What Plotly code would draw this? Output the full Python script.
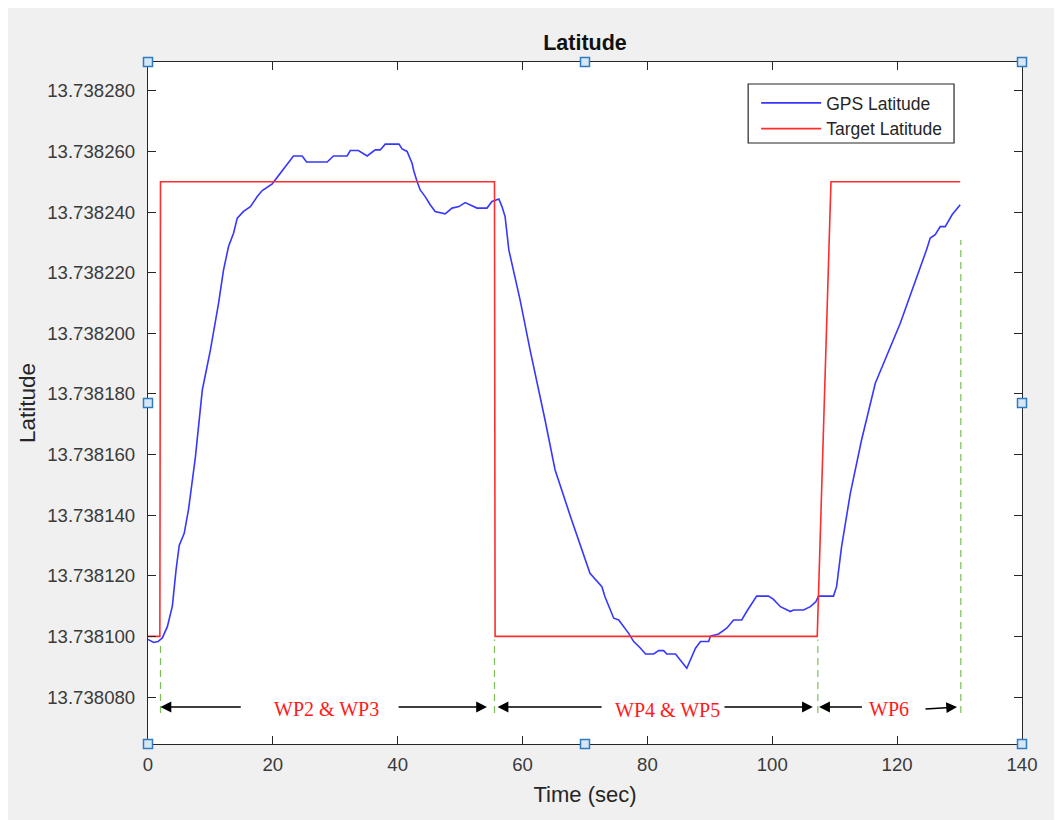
import plotly.graph_objects as go

# ---------------- data ----------------
gps_time = [0.0, 0.9, 1.6, 2.3, 3.1, 3.9, 4.5, 5.0, 5.8, 6.5, 7.6, 8.7, 10.0, 11.3, 12.1, 12.9,
            13.7, 14.3, 15.3, 16.4, 17.5, 18.3, 19.9, 21.2, 22.2, 23.3, 24.7, 25.4, 28.7, 29.7,
            31.9, 32.4, 33.7, 35.1, 36.4, 37.2, 38.0, 40.2, 40.7, 41.5, 42.3, 42.6, 43.1, 43.6,
            44.4, 45.2, 46.0, 47.6, 48.7, 49.8, 50.8, 51.6, 52.7, 54.3, 55.1, 56.2, 56.7, 57.2,
            57.8, 59.6, 61.2, 63.6, 65.2, 67.6, 70.0, 70.8, 72.7, 73.2, 74.6, 75.4, 77.0, 77.8,
            78.9, 79.7, 81.0, 81.8, 82.6, 83.1, 84.5, 86.3, 87.7, 88.5, 89.8, 90.1, 91.4, 92.7,
            93.8, 95.1, 95.9, 97.5, 99.4, 100.2, 101.3, 102.9, 103.4, 105.0, 106.1, 107.0, 107.4,
            109.8, 110.3, 111.1, 112.5, 114.3, 116.5, 120.5, 124.7, 125.3, 126.1, 126.9, 127.7,
            128.8, 130.1]
gps_lat = [13.7380990, 13.7380980, 13.7380983, 13.7380995, 13.7381032, 13.7381100, 13.7381220,
           13.7381300, 13.7381340, 13.7381420, 13.7381593, 13.7381813, 13.7381945, 13.7382099,
           13.7382209, 13.7382286, 13.7382330, 13.7382380, 13.7382402, 13.7382418, 13.7382451,
           13.7382471, 13.7382493, 13.7382528, 13.7382555, 13.7382585, 13.7382585, 13.7382565,
           13.7382565, 13.7382585, 13.7382585, 13.7382603, 13.7382603, 13.7382585, 13.7382605,
           13.7382605, 13.7382624, 13.7382624, 13.7382608, 13.7382600, 13.7382561, 13.7382534,
           13.7382501, 13.7382473, 13.7382451, 13.7382424, 13.7382402, 13.7382394, 13.7382413,
           13.7382418, 13.7382431, 13.7382424, 13.7382413, 13.7382413, 13.7382435, 13.7382443,
           13.7382418, 13.7382385, 13.7382275, 13.7382110, 13.7381945, 13.7381714, 13.7381550,
           13.7381400, 13.7381252, 13.7381208, 13.7381164, 13.7381131, 13.7381060, 13.7381054,
           13.7381010, 13.7380983, 13.7380961, 13.7380942, 13.7380942, 13.7380953, 13.7380953,
           13.7380942, 13.7380942, 13.7380895, 13.7380961, 13.7380983, 13.7380983, 13.7381001,
           13.7381008, 13.7381027, 13.7381054, 13.7381054, 13.7381082, 13.7381133, 13.7381133,
           13.7381122, 13.7381098, 13.7381082, 13.7381087, 13.7381087, 13.7381098, 13.7381115,
           13.7381133, 13.7381133, 13.7381164, 13.7381296, 13.7381472, 13.7381648, 13.7381835,
           13.7382033, 13.7382275, 13.7382314, 13.7382325, 13.7382352, 13.7382352, 13.7382391,
           13.7382424]

target_time = [0.0, 1.9, 2.0, 55.5, 55.6, 107.2, 109.4, 130.1]
target_lat = [13.738100, 13.738100, 13.738250, 13.738250, 13.738100, 13.738100, 13.738250, 13.738250]

y_ticks = [13.738080, 13.738100, 13.738120, 13.738140, 13.738160, 13.738180,
           13.738200, 13.738220, 13.738240, 13.738260, 13.738280]
y_tick_labels = ["13.738080", "13.738100", "13.738120", "13.738140", "13.738160", "13.738180",
                 "13.738200", "13.738220", "13.738240", "13.738260", "13.738280"]
x_ticks = [0, 20, 40, 60, 80, 100, 120, 140]

# waypoint guide lines: (time, lat top, lat bottom)
guide_time = [2.0, 55.5, 107.3, 130.2]
guide_top = [13.7380970, 13.7380990, 13.7380990, 13.7382308]
guide_bottom = [13.7380747, 13.7380747, 13.7380747, 13.7380747]

# arrows: (tail time, tail lat, head time, head lat)
arrow_tail_t = [15.1, 39.9, 72.9, 92.1, 114.6, 124.3]
arrow_head_t = [2.0, 54.3, 56.0, 106.5, 107.5, 129.6]
arrow_tail_lat = [13.7380767, 13.7380767, 13.7380767, 13.7380767, 13.7380767, 13.7380760]
arrow_head_lat = [13.7380767, 13.7380767, 13.7380767, 13.7380767, 13.7380767, 13.7380767]

segment_labels = ["WP2 & WP3", "WP4 & WP5", "WP6"]
segment_label_t = [28.6, 83.2, 118.7]
segment_label_lat = [13.7380760, 13.7380758, 13.7380760]

# ---------------- figure ----------------
SANS = "Liberation Sans, Arial, Helvetica, sans-serif"
SERIF = "Liberation Serif, Times New Roman, serif"
AX = "#262626"

W, H = 1054, 812
ML, MR, MT, MB = 139.5, 40, 54, 76
PW, PH = W - ML - MR, H - MT - MB


def px_x(p):
    # reference-screen x pixel -> paper coordinate (page has 8px offset)
    return (p - 8 - ML) / PW


def px_y(p):
    return (H - MB - (p - 8)) / PH


fig = go.Figure()
fig.add_trace(go.Scatter(x=gps_time, y=gps_lat, mode="lines", name="GPS Latitude",
                         line=dict(color="rgb(55,55,255)", width=1.6)))
fig.add_trace(go.Scatter(x=target_time, y=target_lat, mode="lines", name="Target Latitude",
                         line=dict(color="rgb(255,45,45)", width=1.6)))

shapes = []
for t, y0, y1 in zip(guide_time, guide_bottom, guide_top):
    shapes.append(dict(type="line", xref="x", yref="y", x0=t, x1=t, y0=y0, y1=y1,
                       line=dict(color="#7cbf5a", width=1.2, dash="7px,5px")))

# legend frame
shapes.append(dict(type="rect", xref="paper", yref="paper", x0=px_x(748), x1=px_x(954),
                   y0=px_y(143), y1=px_y(84), fillcolor="white",
                   line=dict(color=AX, width=1.2), layer="above"))

# selection handles
for hx, hy in [(0, 0), (0.5, 0), (1, 0), (0, 0.5), (1, 0.5), (0, 1), (0.5, 1), (1, 1)]:
    shapes.append(dict(type="rect", xref="paper", yref="paper", xsizemode="pixel",
                       ysizemode="pixel", xanchor=hx, yanchor=hy, x0=-4.5, x1=4.5, y0=-4.5, y1=4.5,
                       fillcolor="#d6e6f5", line=dict(color="#2f7bbf", width=1.5)))

annotations = []
for tt, tl, ht, hl in zip(arrow_tail_t, arrow_tail_lat, arrow_head_t, arrow_head_lat):
    annotations.append(dict(x=ht, y=hl, ax=tt, ay=tl, xref="x", yref="y", axref="x", ayref="y",
                            text="", showarrow=True, arrowhead=2, arrowsize=1.35, arrowwidth=1.6,
                            arrowcolor="black"))
for txt, t, lat in zip(segment_labels, segment_label_t, segment_label_lat):
    annotations.append(dict(x=t, y=lat, xref="x", yref="y", text=txt, showarrow=False,
                            font=dict(family=SERIF, size=20, color="#ff1a1a")))

fig.update_layout(
    width=W, height=H,
    margin=dict(l=ML, r=MR, t=MT, b=MB),
    paper_bgcolor="#f0f0f0", plot_bgcolor="white",
    font=dict(family=SANS, size=18, color=AX),
    title=dict(text="Latitude", x=0.5, xref="paper", xanchor="center", y=1 - 34.5 / H,
               yanchor="middle",
               font=dict(family=SANS, size=21.5, color="#111111", weight="bold")),
    showlegend=True,
    legend=dict(x=px_x(756), y=px_y(85), xanchor="left", yanchor="top",
                bgcolor="rgba(0,0,0,0)", borderwidth=0,
                font=dict(family=SANS, size=17.5, color=AX), itemwidth=60,
                tracegroupgap=0),
    shapes=shapes,
    annotations=annotations,
)

fig.update_xaxes(range=[0, 140], tickvals=x_ticks, ticks="inside", ticklen=8, tickwidth=1.2,
                 tickcolor=AX, showline=True, linecolor=AX, linewidth=1.2, mirror="allticks",
                 showgrid=False, zeroline=False, ticklabelstandoff=4,
                 title=dict(text="Time (sec)", font=dict(size=22, color=AX), standoff=12),
                 tickfont=dict(size=18.6, color="#3a3a3a"))
fig.update_yaxes(range=[13.7380645, 13.7382895], tickvals=y_ticks, ticktext=y_tick_labels,
                 ticks="inside", ticklen=8, tickwidth=1.2, tickcolor=AX, showline=True,
                 linecolor=AX, linewidth=1.2, mirror="allticks", showgrid=False, zeroline=False,
                 ticklabelstandoff=8,
                 title=dict(text="Latitude", font=dict(size=22.5, color=AX), standoff=5),
                 tickfont=dict(size=18.6, color="#3a3a3a"))

fig.write_html("out.html")
